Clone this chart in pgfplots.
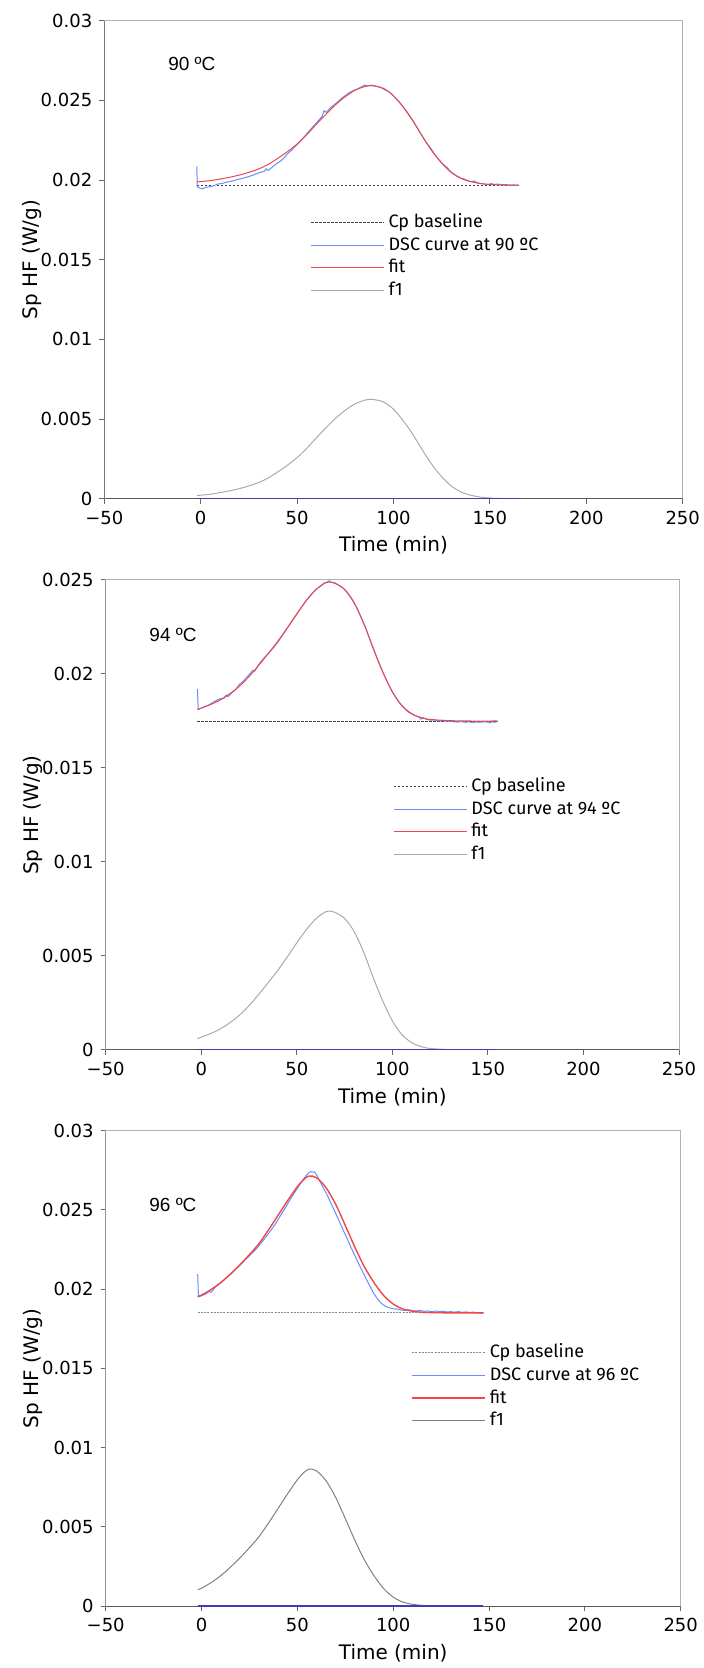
\documentclass[border=0pt]{standalone}
\usepackage{pgfplots}
\pgfplotsset{compat=1.18}
\usepackage{fontspec}
\setmainfont{DejaVu Sans}
\newfontfamily\legfont{Fira Sans}
\newfontfamily\annfont{Liberation Sans}

\definecolor{dscblue}{RGB}{102,140,255}
\definecolor{fitred}{RGB}{240,70,70}
\definecolor{fgray}{RGB}{170,170,170}
\definecolor{zeroblue}{RGB}{60,60,180}

\pgfplotsset{
  dscpanel/.style={
    scale only axis, anchor=south west,
    xmin=-50, xmax=250, ymin=0,
    xtick={-50,0,50,100,150,200,250},
    xticklabels={−50,0,50,100,150,200,250},
    scaled y ticks=false,
    tick align=outside, tick pos=left,
    major tick length=2.5pt,
    tick style={black!60, line width=0.5pt},
    axis line style={black!30, line width=0.5pt},
    ticklabel style={font=\fontsize{9}{10}\selectfont, text=black},
    xlabel={Time (min)}, ylabel={Sp HF (W/g)},
    label style={font=\fontsize{9.5}{11}\selectfont},
    every axis x label/.style={at={([yshift=-23.5pt]axis description cs:0.5,0)}, anchor=center},
    every axis y label/.style={at={([xshift=-36.2pt]axis description cs:0,0.5)}, anchor=center, rotate=90},
    legend style={draw=none, fill=none, anchor=north west, inner sep=0pt,
      font=\legfont\fontsize{9}{11}\selectfont,
      nodes={text height=7pt, text depth=2pt, inner ysep=1.2pt}},
    legend cell align=left,
    legend image code/.code={\draw[#1] (0pt,0pt) -- (36.5pt,0pt);},
  },
  base/.style={black!75, line width=0.4pt, dash pattern=on 1.2pt off 0.8pt},
  dsc/.style={dscblue, line width=0.5pt},
  fit/.style={fitred, line width=0.5pt},
  fone/.style={fgray, line width=0.5pt},
  zero/.style={zeroblue, line width=0.6pt},
}

\begin{document}
\begin{tikzpicture}
\path[use as bounding box] (0,0) rectangle (351.5pt,834pt);

% ---------------- 90 C ----------------
\begin{axis}[dscpanel, at={(52.15pt,584.65pt)}, width=289.2pt, height=239pt,
  ymax=0.03,
  ytick={0,0.005,0.01,0.015,0.02,0.025,0.03},
  yticklabels={0,0.005,0.01,0.015,0.02,0.025,0.03},
  legend style={at={(0.356,0.603)}}]
\draw[black!65, line width=0.5pt] (rel axis cs:0,1) -- (rel axis cs:0,0) -- (rel axis cs:1,0);
\addplot[base] coordinates {(-2,0.01968) (165,0.01968)};
\addlegendentry{Cp baseline}
\addplot[dsc] coordinates {
(-2,0.02085) (-1.8,0.01960) (-1,0.01952) (0,0.01948) (1,0.01945) (2,0.01950)
(3,0.01955) (5,0.01958) (7,0.01965) (9,0.01975) (11,0.01978) (13,0.01985)
(15,0.01990) (17,0.01995) (19,0.02003) (21,0.02008) (23,0.02015) (25,0.02022)
(27,0.02030) (29,0.02040) (31,0.02048) (33,0.02055) (34,0.02070) (35,0.02060)
(37,0.02080) (39,0.02100) (41,0.02115) (43,0.02135) (45,0.02165) (47,0.02185)
(49,0.02210) (51,0.02235) (53,0.02262) (55,0.02290) (57,0.02318) (59,0.02345)
(61,0.02372) (63,0.02400) (64,0.02435) (65,0.02425) (67,0.02450) (69,0.02470)
(71,0.02490) (73,0.02512) (75,0.02530) (77,0.02548) (79,0.02560) (81,0.02570)
(83,0.02582) (85,0.02595) (87,0.02592) (89,0.02596) (91,0.02588) (93,0.02583)
(95,0.02570) (97,0.02558) (99,0.02540) (101,0.02515) (103,0.02490) (105,0.02460)
(107,0.02428) (109,0.02392) (111,0.02355) (113,0.02315) (115,0.02275) (117,0.02235)
(118,0.02220) (119,0.02205) (121,0.02168) (123,0.02135) (125,0.02108) (127,0.02085)
(128,0.02078) (129,0.02060) (131,0.02040) (133,0.02025) (135,0.02012) (137,0.02005)
(139,0.01992) (141,0.01990) (142,0.01995) (143,0.01985) (145,0.01978) (147,0.01975)
(149,0.01972) (151,0.01978) (152,0.01972) (154,0.01975) (156,0.01970) (158,0.01972)
(160,0.01968) (162,0.01969) (165,0.01966)};
\addlegendentry{DSC curve at 90 ºC}
\addplot[fit, smooth] coordinates {
(-2,0.01988) (0,0.01990) (5,0.01996) (10,0.02006) (15,0.02017) (20,0.02031)
(25,0.02048) (30,0.02069) (35,0.02098) (40,0.02136) (45,0.02178) (50,0.02226)
(55,0.02284) (60,0.02350) (65,0.02413) (70,0.02473) (75,0.02523) (80,0.02563)
(85,0.02586) (88,0.02592) (90,0.02590) (95,0.02574) (100,0.02529) (105,0.02458)
(110,0.02372) (115,0.02273) (120,0.02181) (125,0.02106) (130,0.02047) (135,0.02010)
(140,0.01990) (145,0.01978) (150,0.01972) (155,0.01969) (160,0.01968) (165,0.01968)};
\addlegendentry{fit}
\addplot[fone, smooth] coordinates {
(-2,0.00020) (0,0.00022) (5,0.00028) (10,0.00038) (15,0.00049) (20,0.00063)
(25,0.00080) (30,0.00101) (35,0.00130) (40,0.00168) (45,0.00210) (50,0.00258)
(55,0.00316) (60,0.00382) (65,0.00445) (70,0.00505) (75,0.00555) (80,0.00595)
(85,0.00618) (88,0.00624) (90,0.00622) (95,0.00606) (100,0.00561) (105,0.00490)
(110,0.00404) (115,0.00305) (120,0.00213) (125,0.00138) (130,0.00079) (135,0.00042)
(140,0.00022) (145,0.00010) (150,0.00004) (155,0.00001) (160,0) (165,0)};
\addlegendentry{f1}
\addplot[zero, forget plot] coordinates {(-2,0) (165,0)};
\node[anchor=west, inner sep=0pt, font=\annfont\fontsize{9.5}{11}\selectfont] at (axis cs:-17,0.02728) {90 ºC};
\end{axis}

% ---------------- 94 C ----------------
\begin{axis}[dscpanel, at={(52.85pt,309pt)}, width=286.65pt, height=235pt,
  ymax=0.025,
  ytick={0,0.005,0.01,0.015,0.02,0.025},
  yticklabels={0,0.005,0.01,0.015,0.02,0.025},
  legend style={at={(0.501,0.586)}}]
\draw[black!65, line width=0.5pt] (rel axis cs:0,1) -- (rel axis cs:0,0) -- (rel axis cs:1,0);
\addplot[base] coordinates {(-2,0.0175) (155,0.0175)};
\addlegendentry{Cp baseline}
\addplot[dsc] coordinates {
(-2,0.01920) (-1.6,0.01815) (0,0.01818) (2,0.01828) (4,0.01835) (6,0.01848)
(8,0.01860) (10,0.01868) (12,0.01872) (13,0.01888) (14,0.01880) (16,0.01900)
(18,0.01918) (20,0.01945) (22,0.01962) (24,0.01985) (26,0.02008) (27,0.02020)
(28,0.02015) (30,0.02050) (32,0.02075) (34,0.02098) (36,0.02120) (38,0.02142)
(40,0.02168) (42,0.02198) (44,0.02228) (46,0.02258) (48,0.02290) (50,0.02318)
(52,0.02348) (54,0.02378) (56,0.02405) (58,0.02428) (60,0.02450) (62,0.02465)
(64,0.02482) (66,0.02490) (67,0.02496) (68,0.02488) (70,0.02485) (72,0.02472)
(74,0.02458) (76,0.02438) (78,0.02410) (80,0.02378) (82,0.02338) (84,0.02292)
(86,0.02245) (88,0.02192) (90,0.02138) (92,0.02085) (94,0.02035) (96,0.01988)
(98,0.01945) (100,0.01905) (102,0.01872) (104,0.01842) (106,0.01820) (108,0.01800)
(110,0.01788) (112,0.01778) (114,0.01770) (115,0.01760) (116,0.01768) (118,0.01758)
(120,0.01754) (122,0.01756) (124,0.01750) (126,0.01752) (128,0.01748) (130,0.01750)
(132,0.01746) (134,0.01744) (136,0.01748) (138,0.01743) (140,0.01746) (142,0.01742)
(144,0.01745) (146,0.01743) (148,0.01746) (150,0.01744) (151,0.01740) (152,0.01745)
(154,0.01744) (155,0.01748)};
\addlegendentry{DSC curve at 94 ºC}
\addplot[fit, smooth] coordinates {
(-2,0.01810) (0,0.01818) (5,0.01838) (10,0.01862) (15,0.01895) (20,0.01935)
(25,0.01986) (30,0.02045) (35,0.02108) (40,0.02173) (45,0.02245) (50,0.02320)
(55,0.02390) (60,0.02448) (65,0.02485) (67,0.02489) (70,0.02482) (75,0.02450)
(80,0.02380) (85,0.02270) (90,0.02135) (95,0.02010) (100,0.01905) (105,0.01832)
(110,0.01790) (115,0.01768) (120,0.01758) (130,0.01752) (140,0.01750) (155,0.01750)};
\addlegendentry{fit}
\addplot[fone, smooth] coordinates {
(-2,0.00060) (0,0.00068) (5,0.00088) (10,0.00112) (15,0.00145) (20,0.00185)
(25,0.00236) (30,0.00295) (35,0.00358) (40,0.00423) (45,0.00495) (50,0.00570)
(55,0.00640) (60,0.00698) (65,0.00735) (67,0.00739) (70,0.00732) (75,0.00700)
(80,0.00630) (85,0.00520) (90,0.00385) (95,0.00260) (100,0.00155) (105,0.00082)
(110,0.00040) (115,0.00018) (120,0.00008) (130,0.00002) (140,0) (155,0)};
\addlegendentry{f1}
\addplot[zero, forget plot] coordinates {(-2,0) (155,0)};
\node[anchor=west, inner sep=0pt, font=\annfont\fontsize{9.5}{11}\selectfont] at (axis cs:-27.3,0.02207) {94 ºC};
\end{axis}

% ---------------- 96 C ----------------
\begin{axis}[dscpanel, at={(52.85pt,31pt)}, width=287.5pt, height=237.65pt,
  ymax=0.03,
  ytick={0,0.005,0.01,0.015,0.02,0.025,0.03},
  yticklabels={0,0.005,0.01,0.015,0.02,0.025,0.03},
  legend style={at={(0.531,0.558)}}]
\draw[black!65, line width=0.5pt] (rel axis cs:0,1) -- (rel axis cs:0,0) -- (rel axis cs:1,0);
\addplot[base, black!45, dash pattern=on 1pt off 0.6pt, line width=0.6pt] coordinates {(-2,0.0185) (147,0.0185)};
\addlegendentry{Cp baseline}
\addplot[dsc] coordinates {
(-2,0.02095) (-1.6,0.01952) (0,0.01958) (2,0.01968) (4,0.01985) (5,0.01980)
(7,0.02010) (9,0.02030) (11,0.02050) (13,0.02072) (15,0.02092) (17,0.02115)
(19,0.02140) (21,0.02162) (23,0.02188) (25,0.02210) (27,0.02235) (29,0.02260)
(31,0.02290) (33,0.02320) (35,0.02352) (37,0.02385) (39,0.02420) (41,0.02460)
(43,0.02500) (45,0.02540) (47,0.02580) (49,0.02618) (51,0.02655) (53,0.02692)
(55,0.02722) (56,0.02735) (57,0.02742) (58,0.02738) (59,0.02740) (60,0.02722)
(62,0.02675) (64,0.02630) (66,0.02582) (68,0.02530) (70,0.02478) (72,0.02425)
(74,0.02370) (76,0.02318) (78,0.02262) (80,0.02212) (82,0.02160) (84,0.02110)
(86,0.02062) (88,0.02015) (90,0.01970) (92,0.01935) (94,0.01908) (96,0.01892)
(98,0.01882) (100,0.01876) (102,0.01875) (104,0.01868) (106,0.01866) (108,0.01870)
(110,0.01864) (112,0.01862) (114,0.01866) (116,0.01860) (118,0.01862) (120,0.01858)
(122,0.01862) (124,0.01858) (126,0.01860) (128,0.01856) (130,0.01858) (132,0.01855)
(134,0.01858) (136,0.01854) (138,0.01856) (140,0.01853) (142,0.01855) (144,0.01850)
(146,0.01848) (147,0.01850)};
\addlegendentry{DSC curve at 96 ºC}
\addplot[fit, smooth, line width=0.7pt] coordinates {
(-2,0.01953) (0,0.01962) (5,0.01998) (10,0.02041) (15,0.02094) (20,0.02153)
(25,0.02218) (30,0.02288) (35,0.02375) (40,0.02467) (45,0.02560) (50,0.02647)
(53,0.02688) (56,0.02714) (60,0.02703) (65,0.02640) (70,0.02535) (75,0.02402)
(80,0.02265) (85,0.02140) (90,0.02041) (95,0.01960) (100,0.01906) (105,0.01875)
(110,0.01861) (115,0.01854) (120,0.01852) (130,0.01850) (147,0.01850)};
\addlegendentry{fit}
\addplot[fone, black!50, smooth] coordinates {
(-2,0.00103) (0,0.00112) (5,0.00148) (10,0.00191) (15,0.00244) (20,0.00303)
(25,0.00368) (30,0.00438) (35,0.00525) (40,0.00617) (45,0.00710) (50,0.00797)
(53,0.00838) (56,0.00864) (60,0.00853) (65,0.00790) (70,0.00685) (75,0.00552)
(80,0.00415) (85,0.00290) (90,0.00191) (95,0.00110) (100,0.00056) (105,0.00025)
(110,0.00011) (115,0.00004) (120,0.00002) (130,0) (147,0)};
\addlegendentry{f1}
\addplot[zero, forget plot] coordinates {(-2,0) (147,0)};
\node[anchor=west, inner sep=0pt, font=\annfont\fontsize{9.5}{11}\selectfont] at (axis cs:-27.4,0.02531) {96 ºC};
\end{axis}
\end{tikzpicture}
\end{document}
